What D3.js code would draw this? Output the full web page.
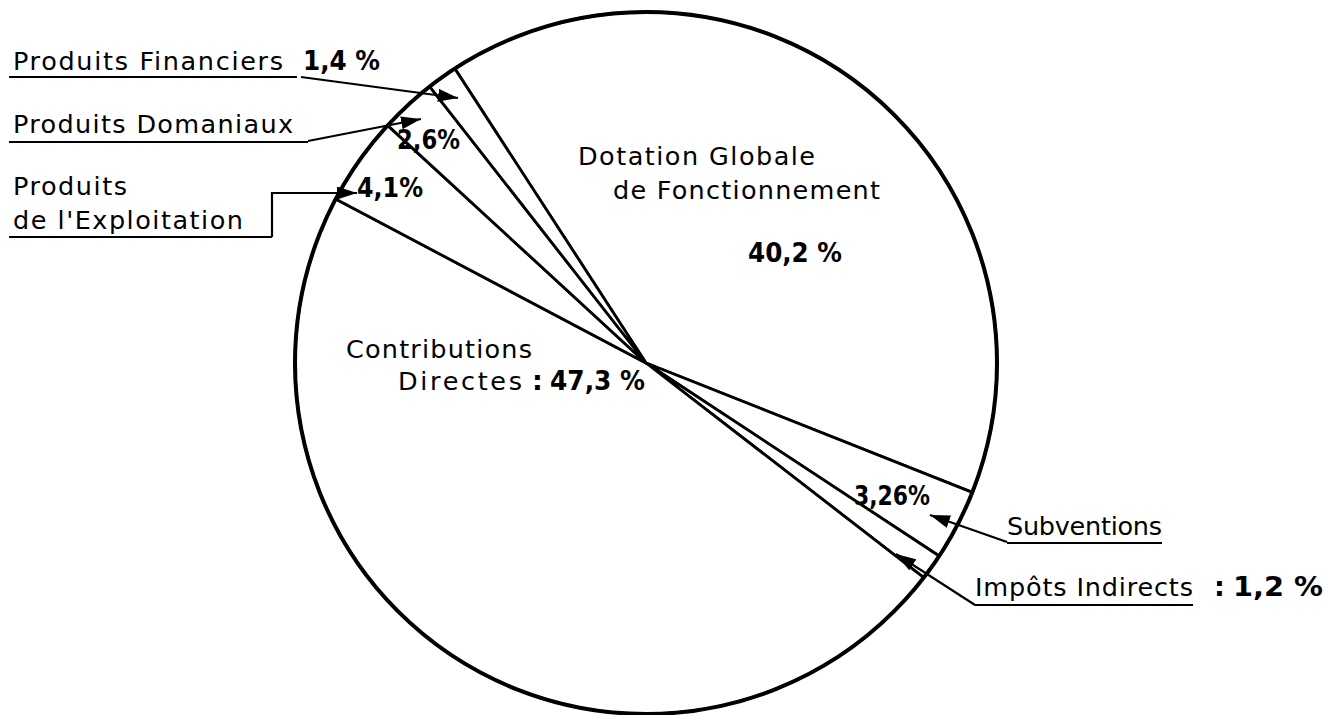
<!DOCTYPE html>
<html>
<head>
<meta charset="utf-8">
<script src="https://cdn.jsdelivr.net/npm/d3@7"></script>
<style>
  html, body { margin: 0; padding: 0; background: #fff; }
  svg { display: block; }
</style>
</head>
<body>
<svg id="chart" width="1327" height="715"></svg>
<script>
// ---- data ----
const categories = [
  "Dotation Globale de Fonctionnement",
  "Subventions",
  "Impôts Indirects",
  "Contributions Directes",
  "Produits de l'Exploitation",
  "Produits Domaniaux",
  "Produits Financiers"
];
const values = [40.2, 3.26, 1.2, 47.3, 4.1, 2.6, 1.4];
const pctSuffix = [" %", "%", " %", " %", "%", "%", " %"];

// ---- layout (positions/styles kept separate from data) ----
const W = 1327, H = 715;
const cx = 646, cy = 363, R = 351;
const startDeg = -33;

const svg = d3.select("#chart");
const fmt = v => String(v).replace(".", ",");

svg.append("defs").append("marker")
  .attr("id", "arr")
  .attr("viewBox", "0 0 20 13")
  .attr("refX", 20).attr("refY", 6.5)
  .attr("markerWidth", 20).attr("markerHeight", 13)
  .attr("markerUnits", "userSpaceOnUse")
  .attr("orient", "auto")
  .append("path").attr("d", "M0,0 L20,6.5 L0,13 Z").attr("fill", "#000");

const pie = d3.pie().sort(null).value(d => d)
  .startAngle(startDeg * Math.PI / 180)
  .endAngle(startDeg * Math.PI / 180 + 2 * Math.PI);
const arcs = pie(values);
const arc = d3.arc().innerRadius(0).outerRadius(R);

const g = svg.append("g").attr("transform", `translate(${cx},${cy})`);
g.selectAll("path.slice").data(arcs).join("path")
  .attr("class", "slice")
  .attr("d", arc)
  .attr("fill", "#fff")
  .attr("stroke", "#000")
  .attr("stroke-width", 2.8)
  .attr("stroke-linejoin", "round");
g.append("circle").attr("r", R).attr("fill", "none")
  .attr("stroke", "#000").attr("stroke-width", 4);

// ---- text ----
const regFont = "'DejaVu Sans', sans-serif";
const boldFont = "'DejaVu Sans', sans-serif";

const textLayout = [
  { t: "Produits Financiers", x: 13, y: 70, w: 270 },
  { t: "Produits Domaniaux", x: 13, y: 133, w: 280 },
  { t: "Produits", x: 13, y: 195, w: 114 },
  { t: "de l'Exploitation", x: 13, y: 229, w: 230 },
  { t: "Dotation Globale", x: 578, y: 165, w: 237 },
  { t: "de Fonctionnement", x: 613, y: 199, w: 267 },
  { t: "Contributions", x: 346, y: 358, w: 186 },
  { t: "Directes", x: 398, y: 390, w: 124 },
  { t: "Subventions", x: 1007, y: 535, w: 155 },
  { t: "Impôts Indirects", x: 975, y: 596, w: 218 }
];
svg.append("g").selectAll("text").data(textLayout).join("text")
  .attr("x", d => d.x).attr("y", d => d.y)
  .attr("textLength", d => d.w).attr("lengthAdjust", "spacing")
  .style("font-family", regFont).style("font-size", "25.5px")
  .attr("fill", "#000")
  .text(d => d.t);

// bold percentage labels, one per slice (index into values)
const pctLayout = [
  { i: 0, x: 748, y: 262, w: 94 },
  { i: 1, x: 854, y: 505, w: 76 },
  { i: 2, x: 1233, y: 596, w: 90 },
  { i: 3, x: 550, y: 390, w: 95 },
  { i: 4, x: 357, y: 197, w: 66 },
  { i: 5, x: 397, y: 149, w: 63 },
  { i: 6, x: 303, y: 70, w: 77 }
];
svg.append("g").selectAll("text").data(pctLayout).join("text")
  .attr("x", d => d.x).attr("y", d => d.y)
  .attr("textLength", d => d.w).attr("lengthAdjust", "spacingAndGlyphs")
  .style("font-family", boldFont).style("font-size", "27px").style("font-weight", "bold")
  .attr("fill", "#000")
  .text(d => fmt(values[d.i]) + pctSuffix[d.i]);
svg.append("g").selectAll("text").data([[1214, 596], [532, 390]]).join("text")
  .attr("x", d => d[0]).attr("y", d => d[1])
  .style("font-family", boldFont).style("font-size", "27px").style("font-weight", "bold")
  .text(":");

// ---- underlines and leaders ----
const lines = [
  [[9, 77], [297, 77]],
  [[9, 142], [308, 142]],
  [[9, 237], [272, 237]],
  [[1007, 543], [1162, 543]],
  [[975, 605], [1193, 605]]
];
svg.append("g").selectAll("path").data(lines).join("path")
  .attr("d", d => d3.line()(d)).attr("stroke", "#000").attr("stroke-width", 2).attr("fill", "none");

const leaders = [
  [[301, 77], [458, 98]],
  [[308, 141], [421, 119]],
  [[272, 237], [272, 193], [357, 193]],
  [[1007, 542], [930, 515]],
  [[975, 605], [896, 554]]
];
svg.append("g").selectAll("path").data(leaders).join("path")
  .attr("d", d => d3.line()(d)).attr("stroke", "#000").attr("stroke-width", 2.2)
  .attr("fill", "none").attr("marker-end", "url(#arr)");
</script>
</body>
</html>
